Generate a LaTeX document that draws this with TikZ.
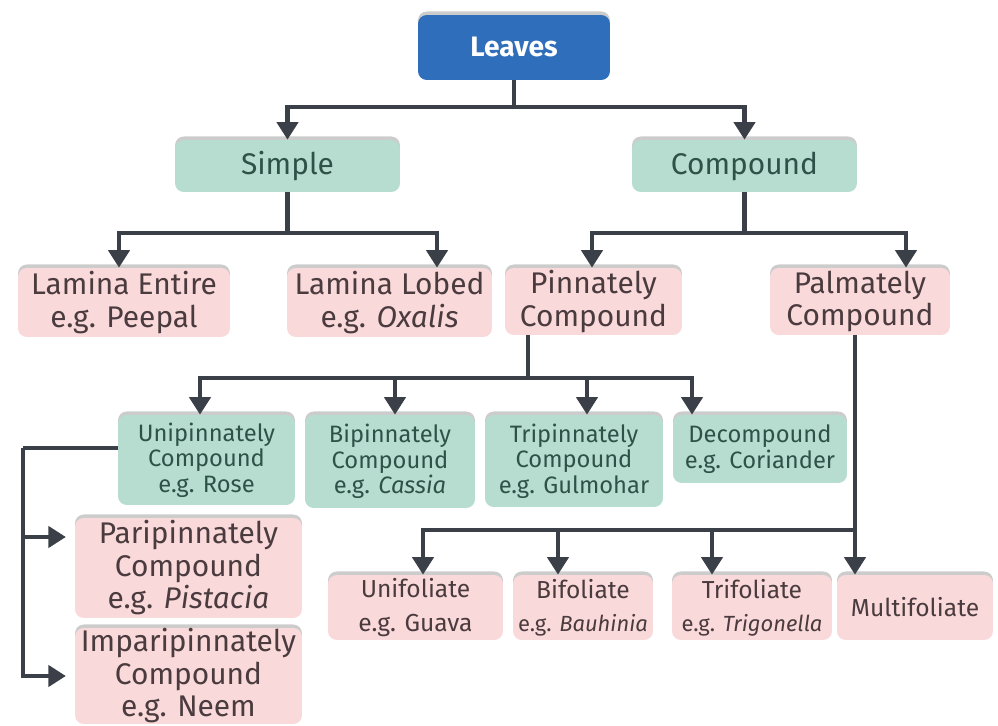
\documentclass[tikz,border=0pt]{standalone}
\usepackage{fontspec}
\setmainfont{Fira Sans}
\usetikzlibrary{arrows.meta,shadows}

\definecolor{leafblue}{HTML}{2F6EBA}
\definecolor{leafgreen}{HTML}{B6DDD0}
\definecolor{leafpink}{HTML}{FAD9DA}
\definecolor{linegray}{HTML}{3B4048}
\definecolor{greentext}{HTML}{2F5248}
\definecolor{pinktext}{HTML}{4A3B3E}

\tikzset{
  box/.style={rounded corners=5pt, inner sep=0pt, align=center,
    drop shadow={shadow xshift=0pt, shadow yshift=2pt, opacity=0.2, fill=black}},
  titlebox/.style={box, fill=leafblue, text=white, font=\fontsize{16}{18}\selectfont\bfseries},
  greenbox/.style={box, fill=leafgreen, text=greentext},
  pinkbox/.style={box, fill=leafpink, text=pinktext},
  bigtext/.style={font=\fontsize{17}{18.5}\selectfont},
  midtext/.style={font=\fontsize{13.5}{14.5}\selectfont},
  lowtext/.style={font=\fontsize{14}{19}\selectfont},
  link/.style={draw=linegray, line width=2.4pt},
  arr/.style={link, -{Triangle[length=10pt,width=12pt]}},
}

\begin{document}
\begin{tikzpicture}[x=0.02cm, y=-0.02cm]
\useasboundingbox (0,0) rectangle (998,726);

%top of the tree
\node[titlebox, minimum width=3.84cm, minimum height=1.3cm] (leaves) at (514,47.5) {Leaves};

%first split
\node[greenbox, bigtext, minimum width=4.5cm, minimum height=1.04cm] (simple) at (287.5,166) {Simple};
\node[greenbox, bigtext, minimum width=4.5cm, minimum height=1.04cm] (compound) at (744.5,166) {Compound};

%under simple and compound
\node[pinkbox, bigtext, minimum width=4.24cm, minimum height=1.38cm] (entire) at (124,302.5) {Lamina Entire\\e.g. Peepal};
\node[pinkbox, bigtext, minimum width=4.1cm, minimum height=1.38cm] (lobed) at (389.5,302.5) {Lamina Lobed\\e.g. \textit{Oxalis}};
\node[pinkbox, bigtext, minimum width=3.54cm, minimum height=1.34cm] (pinnate) at (593.5,301.5) {Pinnately\\Compound};
\node[pinkbox, bigtext, minimum width=3.6cm, minimum height=1.34cm] (palmate) at (860,301.5) {Palmately\\Compound};

%kinds of pinnately compound
\node[greenbox, midtext, minimum width=3.54cm, minimum height=1.8cm] (unipin) at (206.5,460) {Unipinnately\\Compound\\e.g. Rose};
\node[greenbox, midtext, minimum width=3.4cm, minimum height=1.86cm] (bipin) at (390,461.5) {Bipinnately\\Compound\\e.g. \textit{Cassia}};
\node[greenbox, midtext, minimum width=3.56cm, minimum height=1.84cm] (tripin) at (574,461) {Tripinnately\\Compound\\e.g. Gulmohar};
\node[greenbox, midtext, minimum width=3.48cm, minimum height=1.36cm] (decomp) at (760,449) {Decompound\\e.g. Coriander};

%kinds of unipinnately compound
\node[pinkbox, bigtext, minimum width=4.54cm, minimum height=2cm] (paripin) at (188.5,568) {Paripinnately\\Compound\\e.g. \textit{Pistacia}};
\node[pinkbox, bigtext, minimum width=4.54cm, minimum height=1.92cm] (imparipin) at (188.5,676) {Imparipinnately\\Compound\\e.g. Neem};

%kinds of palmately compound
\node[pinkbox, lowtext, minimum width=3.5cm, minimum height=1.3cm] (unifol) at (415.5,607.5) {Unifoliate\\e.g. Guava};
\node[pinkbox, lowtext, minimum width=2.8cm, minimum height=1.3cm] (bifol) at (583,607.5) {Bifoliate\\{\fontsize{12.5}{14}\selectfont e.g. \textit{Bauhinia}}};
\node[pinkbox, lowtext, minimum width=3.2cm, minimum height=1.3cm] (trifol) at (752,607.5) {Trifoliate\\{\fontsize{12.5}{14}\selectfont e.g. \textit{Trigonella}}};
\node[pinkbox, lowtext, minimum width=3.12cm, minimum height=1.3cm] (multifol) at (915,607.5) {Multifoliate};

%bus points for the connectors
\coordinate (sbusL) at (119,233);
\coordinate (sbusR) at (437,233);
\coordinate (cbusL) at (592,233);
\coordinate (cbusR) at (906,233);
\coordinate (pdrop) at (528,378);
\coordinate (pbusA) at (200,378);
\coordinate (pbusB) at (395,378);
\coordinate (pbusC) at (587,378);
\coordinate (pbusD) at (692,378);
\coordinate (mdrop) at (855,530);
\coordinate (mbusA) at (423,530);
\coordinate (mbusB) at (558,530);
\coordinate (mbusC) at (712,530);
\coordinate (ubend) at (23,448);
\coordinate (pariin) at (23,537);

%leaves to simple and compound
\draw[arr] (leaves.south) -- ++(0,27) -| (simple.north);
\draw[arr] (leaves.south) -- ++(0,27) -| (compound.north);

%simple to lamina boxes
\draw[arr] (simple.south) |- (sbusL) -- (sbusL |- entire.north);
\draw[arr] (simple.south) |- (sbusR) -- (sbusR |- lobed.north);

%compound to pinnately and palmately
\draw[arr] (compound.south) |- (cbusL) -- (cbusL |- pinnate.north);
\draw[arr] (compound.south) |- (cbusR) -- (cbusR |- palmate.north);

%pinnately to its four kinds
\draw[link] (pdrop |- pinnate.south) -- (pdrop);
\draw[arr] (pdrop) -- (pbusA) -- (pbusA |- unipin.north);
\draw[arr] (pbusA) -- (pbusB) -- (pbusB |- bipin.north);
\draw[arr] (pbusB) -- (pbusC) -- (pbusC |- tripin.north);
\draw[arr] (pbusC) -- (pbusD) -- (pbusD |- decomp.north);

%unipinnately to pari and impari
\draw[link] (ubend -| unipin.west) -- (ubend);
\draw[arr, shorten >=5pt] (ubend) |- (imparipin.west);
\draw[arr, shorten >=5pt] (pariin) -- (pariin -| paripin.west);

%palmately to the foliate boxes
\draw[arr] (mdrop |- palmate.south) -- (mdrop |- multifol.north);
\draw[arr] (mdrop) -- (mbusA) -- (mbusA |- unifol.north);
\draw[arr] (mbusB) -- (mbusB |- bifol.north);
\draw[arr] (mbusC) -- (mbusC |- trifol.north);

\end{tikzpicture}
\end{document}
